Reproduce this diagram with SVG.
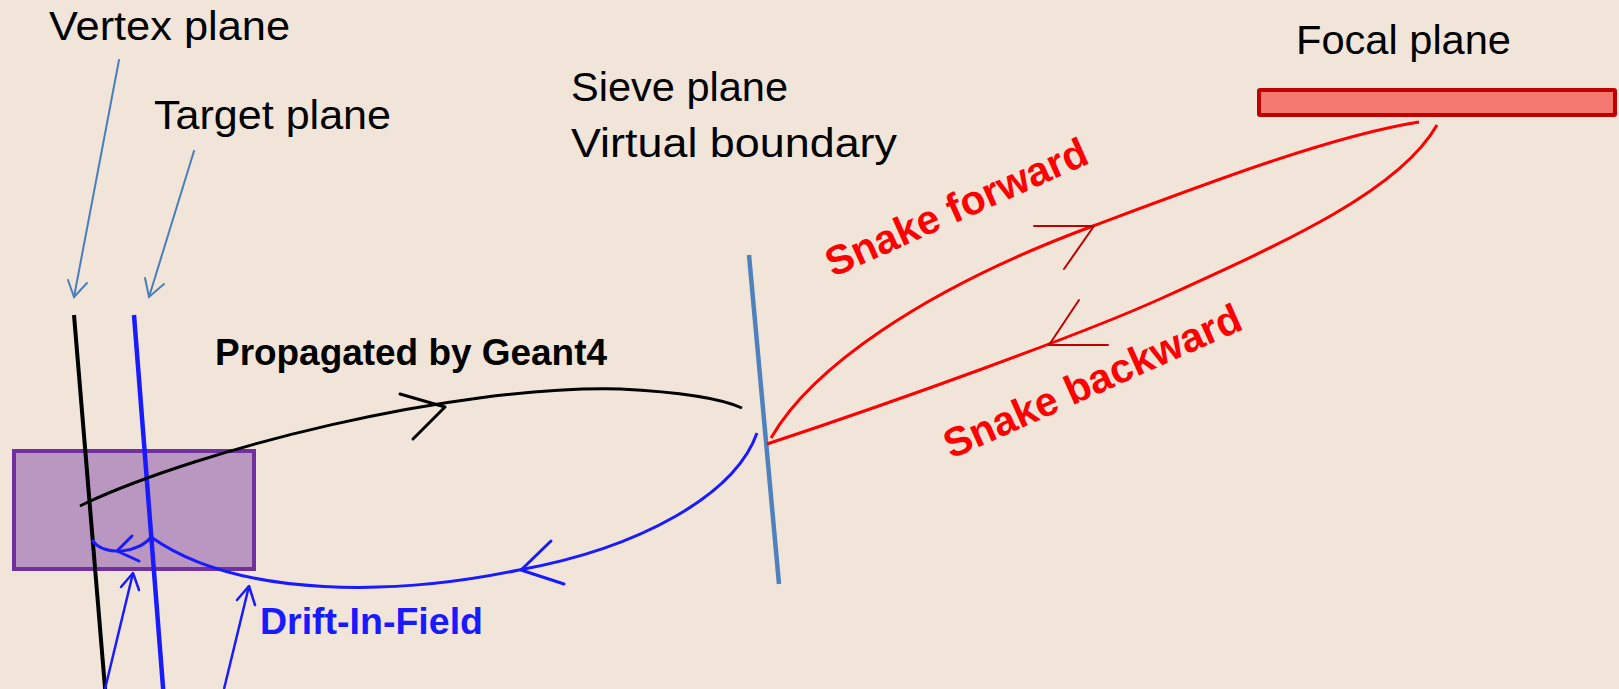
<svg xmlns="http://www.w3.org/2000/svg" width="1619" height="689" viewBox="0 0 1619 689">
<style>
.lbl{font-family:"Liberation Sans",Arial,sans-serif;font-size:40px;fill:#000}
.bold{font-family:"Liberation Sans",Arial,sans-serif;font-weight:bold}
.leader{stroke:#4A7EBB;stroke-width:2;fill:none;stroke-linecap:round}
.ah{fill:none;stroke-linecap:round;stroke-linejoin:round}
</style>
<rect x="0" y="0" width="1619" height="689" fill="#F1E5DA"/>

<g id="target-box">
<rect x="14" y="451" width="240" height="118" fill="#7030A0" fill-opacity="0.43" stroke="#7030A0" stroke-width="4"/>
</g>

<g id="vertex-plane">
<text class="lbl" x="49" y="40" textLength="241" lengthAdjust="spacingAndGlyphs">Vertex plane</text>
<line class="leader" x1="119" y1="60" x2="74" y2="297"/>
<polyline class="leader" points="68,280 74,297 87,283"/>
<line x1="74" y1="315" x2="106" y2="700" stroke="#000" stroke-width="4"/>
</g>

<g id="target-plane">
<text class="lbl" x="154" y="129" textLength="237" lengthAdjust="spacingAndGlyphs">Target plane</text>
<line class="leader" x1="194" y1="151" x2="149" y2="297"/>
<polyline class="leader" points="145,278 149,297 164,284"/>
<line x1="134" y1="315" x2="164" y2="700" stroke="#1A1AFF" stroke-width="4.5"/>
</g>

<g id="sieve-plane">
<text class="lbl" x="571" y="101" textLength="217" lengthAdjust="spacingAndGlyphs">Sieve plane</text>
<text class="lbl" x="571" y="157" textLength="326" lengthAdjust="spacingAndGlyphs">Virtual boundary</text>
<line x1="749" y1="255" x2="779" y2="584" stroke="#4F81BD" stroke-width="4.5"/>
</g>

<g id="focal-plane">
<text class="lbl" x="1296" y="54" textLength="215" lengthAdjust="spacingAndGlyphs">Focal plane</text>
<rect x="1259" y="90" width="356" height="25" fill="#F47870" stroke="#C00000" stroke-width="4" rx="1"/>
</g>

<g id="connectors">
<!-- Geant4 propagation -->
<path d="M80,506 L86,503 C200,450 450,385 620,389 C680,392 720,398 742,408" fill="none" stroke="#000" stroke-width="3"/>
<polyline class="ah" points="400,394 445,407 413,439" stroke="#000" stroke-width="3"/>
<!-- Drift-In-Field back -->
<path d="M757,433 C735,495 640,548 519,570 C400,595 240,600 151,537" fill="none" stroke="#1A1AFF" stroke-width="3"/>
<polyline class="ah" points="551,541 521,570 564,584" stroke="#1A1AFF" stroke-width="3"/>
<path d="M151,537 C140,552 105,558 92,540" fill="none" stroke="#1A1AFF" stroke-width="3"/>
<polyline class="ah" points="132,536 117,551 139,561" stroke="#1A1AFF" stroke-width="3"/>
<!-- pointer arrows -->
<line x1="105" y1="689" x2="133" y2="573" stroke="#1A1AFF" stroke-width="2.5"/>
<polyline class="ah" points="121,587 133,573 139,590" stroke="#1A1AFF" stroke-width="2.5"/>
<line x1="224" y1="689" x2="249" y2="586" stroke="#1A1AFF" stroke-width="2.5"/>
<polyline class="ah" points="237,600 249,586 255,605" stroke="#1A1AFF" stroke-width="2.5"/>
<!-- Snake forward -->
<path d="M771,438 C810,370 920,290 1093,226 C1200,186 1330,136 1419,122" fill="none" stroke="#FF0000" stroke-width="3"/>
<polyline class="ah" points="1034,226 1094,226 1064,269" stroke="#C00000" stroke-width="2"/>
<!-- Snake backward -->
<path d="M1437,125 C1400,190 1290,240 1160,299 C1080,335 900,400 767,444" fill="none" stroke="#FF0000" stroke-width="3"/>
<polyline class="ah" points="1079,300 1049,345 1108,345" stroke="#C00000" stroke-width="2"/>
<!-- labels -->
<text class="bold" x="215" y="365" font-size="36" fill="#000" textLength="392" lengthAdjust="spacingAndGlyphs">Propagated by Geant4</text>
<text class="bold" x="260" y="634" font-size="36" fill="#1A1AFF" textLength="223" lengthAdjust="spacingAndGlyphs">Drift-In-Field</text>
<text class="bold" font-size="41" fill="#FF0000" text-anchor="middle" transform="translate(962,220) rotate(-24)">Snake forward</text>
<text class="bold" font-size="41" fill="#FF0000" text-anchor="middle" transform="translate(1098,394) rotate(-24)">Snake backward</text>
</g>
</svg>
